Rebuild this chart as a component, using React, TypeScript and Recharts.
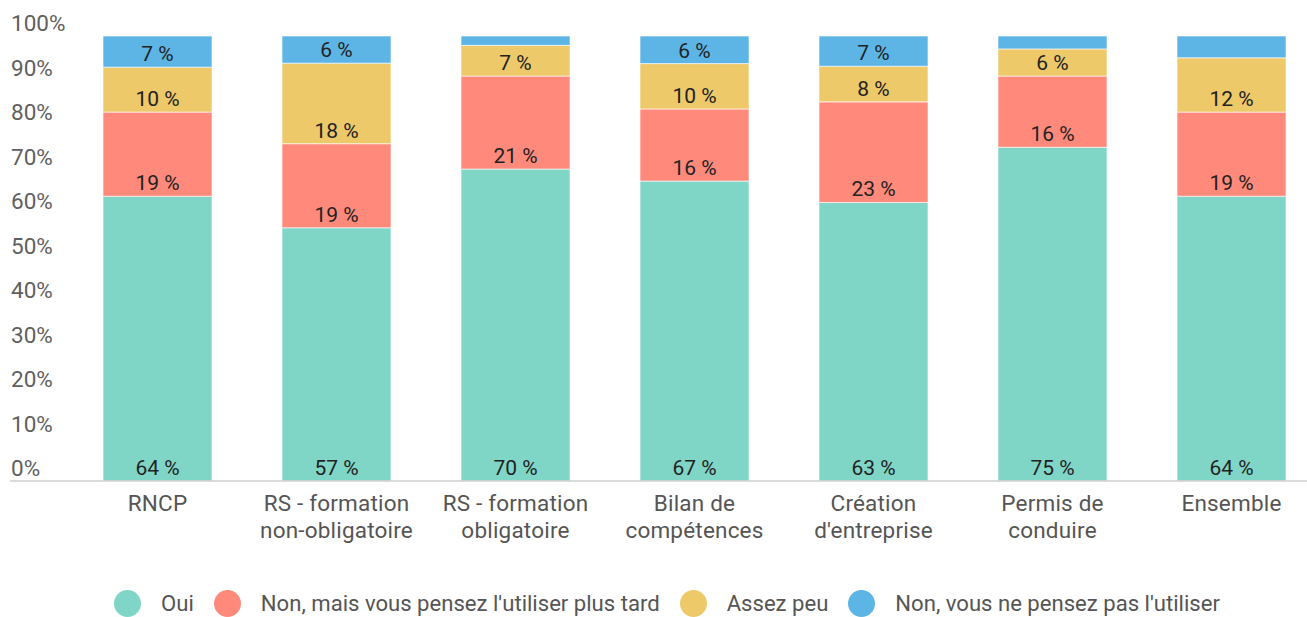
import { BarChart, Bar, XAxis, YAxis, Legend, LabelList } from "recharts";

const categories = [
  "RNCP",
  "RS - formation\nnon-obligatoire",
  "RS - formation\nobligatoire",
  "Bilan de\ncompétences",
  "Création\nd'entreprise",
  "Permis de\nconduire",
  "Ensemble",
];

const oui = [64.0, 56.9, 70.1, 67.4, 62.6, 75.0, 64.0];
const nonPlusTard = [18.9, 18.9, 20.9, 16.2, 22.6, 16.0, 18.9];
const assezPeu = [10.1, 18.1, 6.9, 10.2, 8.0, 6.1, 12.2];
const nonPas = [7.0, 6.1, 2.1, 6.2, 6.8, 2.9, 4.9];

const yTicks = [0, 10, 20, 30, 40, 50, 60, 70, 80, 90, 100];

const series = [
  { key: "oui", name: "Oui", color: "#80D6C6" },
  { key: "nonPlusTard", name: "Non, mais vous pensez l'utiliser plus tard", color: "#FF8A7B" },
  { key: "assezPeu", name: "Assez peu", color: "#EEC96A" },
  { key: "nonPas", name: "Non, vous ne pensez pas l'utiliser", color: "#5DB5E5" },
];

const data = categories.map((c, i) => ({
  cat: c,
  oui: oui[i],
  nonPlusTard: nonPlusTard[i],
  assezPeu: assezPeu[i],
  nonPas: nonPas[i],
}));

const FONT = "Roboto, 'Noto Sans', sans-serif";

function YTick(props: any) {
  const { y, payload } = props;
  return (
    <text x={11} y={y - 13} textAnchor="start" dominantBaseline="central"
      fontFamily={FONT} fontSize={22.5} fill="#5f5f5f">
      {payload.value}%
    </text>
  );
}

function XTick(props: any) {
  const { x, y, payload } = props;
  const lines = String(payload.value).split("\n");
  return (
    <text x={x} y={y} textAnchor="middle" fontFamily={FONT} fontSize={22.5} fill="#555"
      letterSpacing={0.2}>
      {lines.map((l, i) => (
        <tspan key={i} x={x} y={y + 14 + i * 27} dominantBaseline="central">{l}</tspan>
      ))}
    </text>
  );
}

function ValueLabel(props: any) {
  const { x, y, width, height, value } = props;
  if (value < 5) return null;
  return (
    <text x={x + width / 2} y={y + height - 13} textAnchor="middle" dominantBaseline="central"
      fontFamily={FONT} fontSize={21} fill="#222">
      {Math.round(value)} %
    </text>
  );
}

function LegendContent() {
  return (
    <div style={{ display: "flex", justifyContent: "center", alignItems: "center", height: 28,
      paddingLeft: 12, fontFamily: FONT, fontSize: 22.1, color: "#555" }}>
      {series.map((s, i) => (
        <div key={s.key} style={{ display: "flex", alignItems: "center", marginLeft: i === 0 ? 0 : 20 }}>
          <span style={{ width: 27, height: 27, borderRadius: "50%", background: s.color, display: "inline-block" }} />
          <span style={{ marginLeft: 20, whiteSpace: "nowrap" }}>{s.name}</span>
        </div>
      ))}
    </div>
  );
}

export default function App() {
  return (
    <div style={{ position: "absolute", left: 0, top: 0, width: 1307, height: 617, overflow: "hidden", background: "#fff" }}>
      <BarChart width={1322} height={617} data={data} margin={{ top: 36, right: 0, bottom: 0, left: 0 }}>
        <XAxis dataKey="cat" interval={0} tickLine={false} axisLine={{ stroke: "#cfcfcf", strokeWidth: 1.5 }}
          padding={{ left: 58, right: 1 }} height={108} tick={<XTick />} />
        <YAxis domain={[0, 100]} ticks={yTicks} interval={0} width={10} axisLine={false} tickLine={false}
          tickSize={0} tickMargin={0} tick={<YTick />} />
        <Legend verticalAlign="bottom" content={<LegendContent />} />
        {series.map((s) => (
          <Bar key={s.key} dataKey={s.key} name={s.name} stackId="a" fill={s.color} barSize={109}
            stroke="rgba(255,255,255,0.6)" strokeWidth={1} isAnimationActive={false}>
            <LabelList dataKey={s.key} content={<ValueLabel />} />
          </Bar>
        ))}
      </BarChart>
    </div>
  );
}
